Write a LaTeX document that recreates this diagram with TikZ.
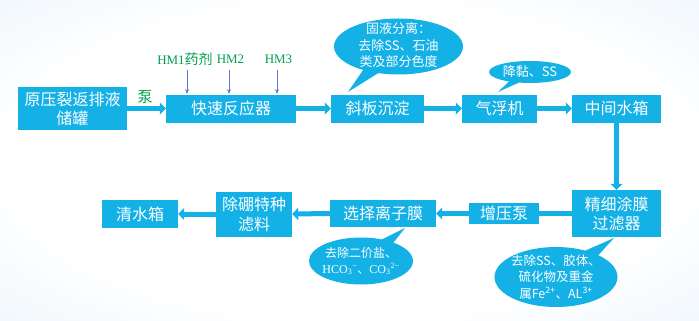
\documentclass[tikz,border=0pt]{standalone}
\usepackage{fontspec}
\setmainfont{Noto Sans CJK SC}
\newfontfamily\serifl{Liberation Serif}
\usetikzlibrary{arrows.meta,shapes.callouts}
\definecolor{boxblue}{RGB}{20,177,231}
\definecolor{hmgreen}{RGB}{0,160,80}
\definecolor{hmarrow}{RGB}{100,120,210}
\definecolor{bgblue}{RGB}{214,232,248}
\pgfdeclareradialshading{bgshade}{\pgfpoint{0bp}{0bp}}{color(0bp)=(white);color(24bp)=(white);color(50bp)=(bgblue!75);color(72bp)=(bgblue)}
\begin{document}
\begin{tikzpicture}[x=1pt,y=-1pt,
 procbox/.style={fill=boxblue,text=white,inner sep=0pt,align=center,font=\fontsize{16}{19}\selectfont},
 flow/.style={draw=boxblue,line width=5pt,-{Triangle[length=6pt,width=12pt]}},
 flowplain/.style={draw=boxblue,line width=5pt},
 bubble/.style={ellipse callout,fill=boxblue,inner sep=0pt},
 btext/.style={text=white,align=center,inner sep=0pt,font=\fontsize{12.5}{16.5}\selectfont},
 hmlabel/.style={text=hmgreen,inner sep=0pt,font=\fontsize{14}{16}\selectfont},
 hmarr/.style={draw=hmarrow,line width=0.9pt,-{Stealth[length=5pt,width=4pt]}}]
\useasboundingbox (0,0) rectangle (699,321);
\shade[shading=bgshade] (0,0) rectangle (699,321);

% process boxes
\node[procbox,minimum width=109pt,minimum height=43pt] (b1) at (72.5,108.5) {原压裂返排液\\储罐};
\node[procbox,minimum width=130pt,minimum height=28pt] (b2) at (231,108.5) {快速反应器};
\node[procbox,minimum width=93pt,minimum height=28pt] (b3) at (377.5,108.5) {斜板沉淀};
\node[procbox,minimum width=75pt,minimum height=28pt] (b4) at (499.5,108.5) {气浮机};
\node[procbox,minimum width=89pt,minimum height=28pt] (b5) at (616.5,108.5) {中间水箱};
\node[procbox,minimum width=89pt,minimum height=47pt] (b6) at (616.5,213.5) {精细涂膜\\过滤器};
\node[procbox,minimum width=70pt,minimum height=21pt] (b7) at (504,213.5) {增压泵};
\node[procbox,minimum width=106pt,minimum height=27pt] (b8) at (383,213.5) {选择离子膜};
\node[procbox,minimum width=76pt,minimum height=45pt,font=\fontsize{16}{20}\selectfont] (b9) at (254,214) {除硼特种\\滤料};
\node[procbox,minimum width=76pt,minimum height=28pt] (b10) at (140,214) {清水箱};

% connectors
\draw[flow] (b1.east) -- (b2.west);
\draw[flow] (b2.east) -- (b3.west);
\draw[flow] (b3.east) -- (b4.west);
\draw[flow] (b4.east) -- (b5.west);
\draw[flow] (b5.south) -- (b6.north);
\draw[flowplain] (b6.west) -- (b7.east);
\draw[flow] (b7.west) -- (b8.east);
\draw[flow] (b8.west) -- (b9.east);
\draw[flow] (b9.west) -- (b10.east);

% pump label
\node[text=hmgreen,inner sep=0pt,font=\fontsize{15}{17}\selectfont] (pump) at (145,97) {泵};

% chemical dosing
\node[hmlabel] (hm1) at (185,59) {{\serifl\fontsize{13}{15}\selectfont HM1}药剂};
\node[hmlabel] (hm2) at (230.5,59) {\serifl\fontsize{13}{15}\selectfont HM2};
\node[hmlabel] (hm3) at (278.5,59) {\serifl\fontsize{13}{15}\selectfont HM3};
\coordinate (d1) at (187,94);
\coordinate (d2) at (229,94);
\coordinate (d3) at (277,94);
\draw[hmarr] (d1 |- 0,70) -- (d1);
\draw[hmarr] (d2 |- 0,70) -- (d2);
\draw[hmarr] (d3 |- 0,70) -- (d3);

% callouts
\node[bubble,minimum width=129pt,minimum height=56pt,callout absolute pointer={(348,92)}] (c1) at (398.5,46.5) {};
\node[btext,font=\fontsize{13}{16.5}\selectfont] (t1) at ([yshift=1pt]c1.center) {固液分离：\\去除SS、石油\\类及部分色度};
\node[bubble,minimum width=82pt,minimum height=22pt,callout absolute pointer={(498,92)}] (c2) at (530,72) {};
\node[btext,font=\fontsize{13}{16}\selectfont] (t2) at (c2.center) {降黏、SS};
\node[bubble,minimum width=104pt,minimum height=47pt,callout absolute pointer={(405,228)}] (c3) at (361,261) {};
\node[btext,font=\fontsize{12}{16}\selectfont] (t3) at (c3.center) {去除二价盐、\\{\serifl HCO\textsubscript{3}\textsuperscript{−}}、{\serifl CO\textsubscript{3}\textsuperscript{2−}}};
\node[bubble,minimum width=123pt,minimum height=60pt,callout absolute pointer={(614,238)}] (c4) at (556,277) {};
\node[btext] (t4) at (c4.center) {去除SS、胶体、\\硫化物及重金\\属Fe\textsuperscript{2+}、AL\textsuperscript{3+}};
\end{tikzpicture}
\end{document}
